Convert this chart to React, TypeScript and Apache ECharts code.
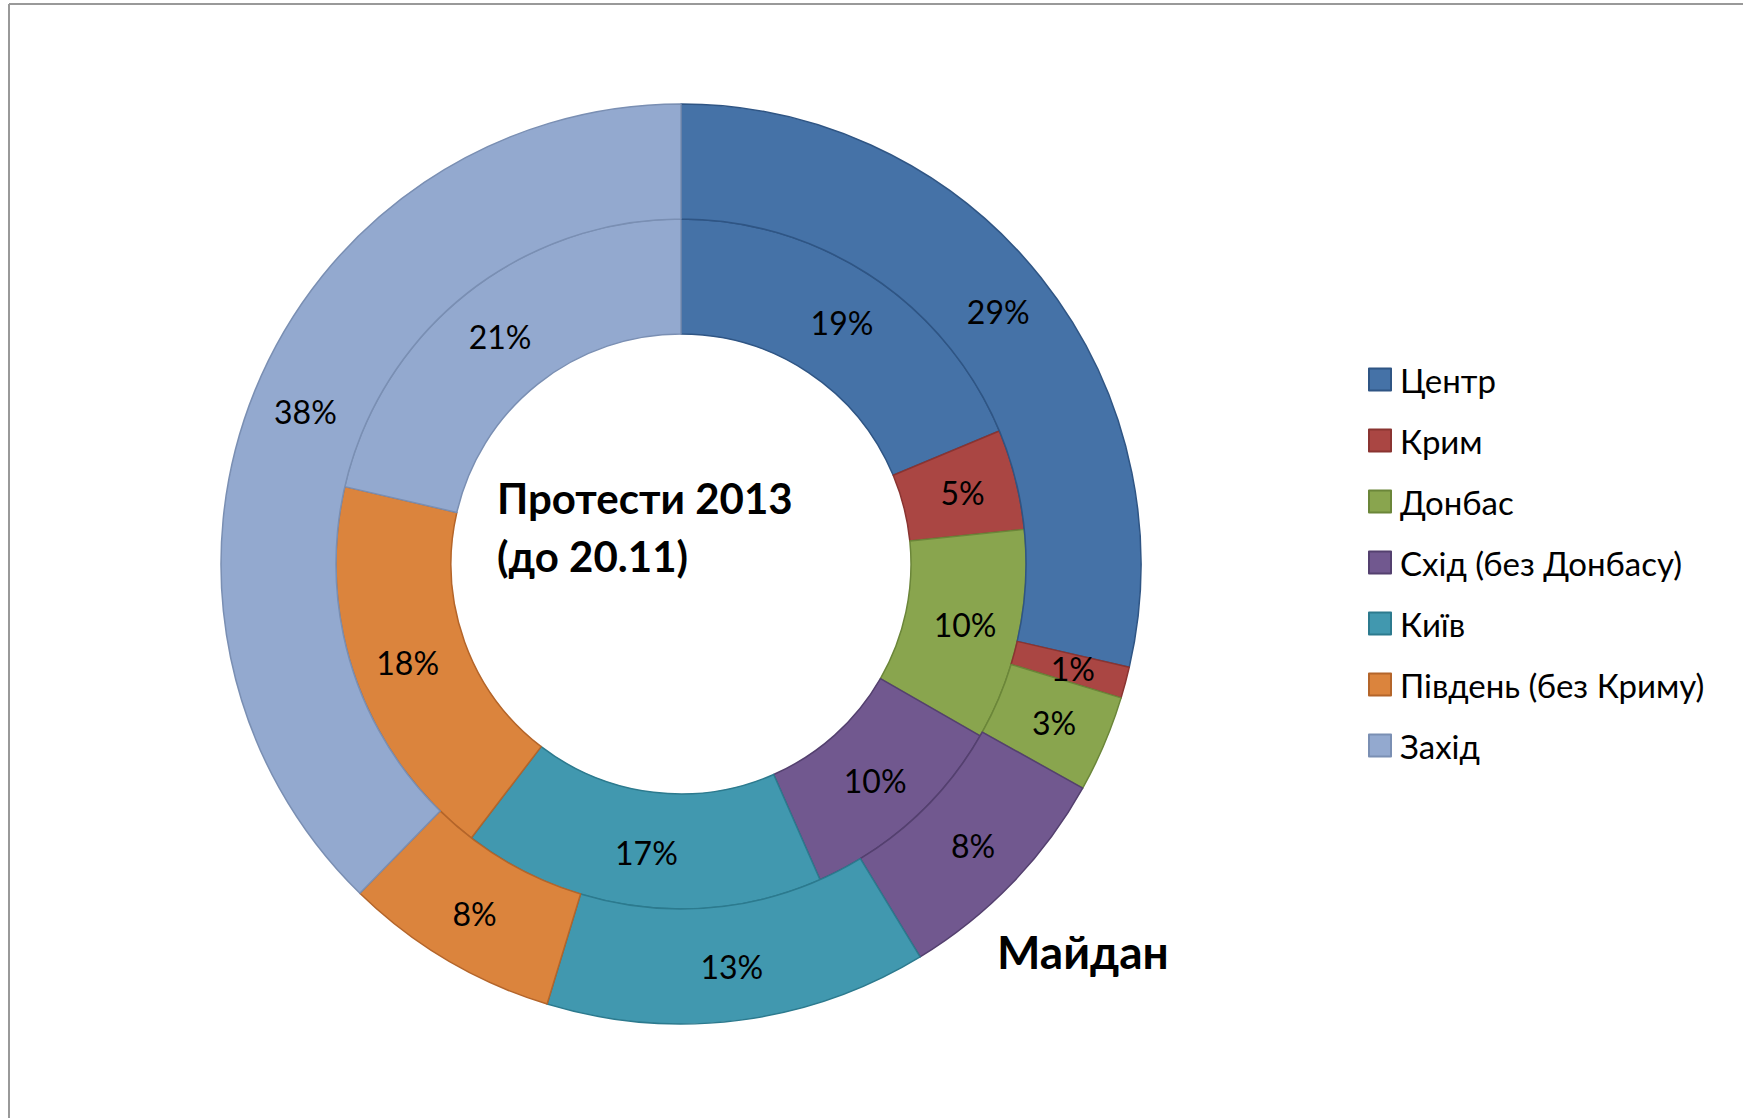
import React, { useEffect, useRef } from "react";
import * as echarts from "echarts";

const categories = [
  "Центр",
  "Крим",
  "Донбас",
  "Схід (без Донбасу)",
  "Київ",
  "Південь (без Криму)",
  "Захід",
];
const protests2013 = [18.7, 4.7, 9.9, 10.1, 17.0, 18.2, 21.4];
const maidan = [28.6, 1.1, 3.4, 8.2, 13.4, 7.6, 37.7];
const colors = ["#4572A7", "#AA4643", "#89A54E", "#71588F", "#4198AF", "#DB843D", "#93A9CF"];
const borders = ["#2F5584", "#8A3431", "#6B8639", "#54406F", "#2C7A8E", "#B4652A", "#7A8FB3"];

const FONT = "Lato, 'Open Sans', sans-serif";

export default function App() {
  const ref = useRef<HTMLDivElement>(null);
  useEffect(() => {
    const chart = echarts.init(ref.current!, null, { renderer: "svg" });
    const mk = (vals: number[]) =>
      categories.map((name, i) => ({
        name,
        value: vals[i],
        itemStyle: { color: colors[i], borderColor: borders[i], borderWidth: 1.5 },
      }));
    const label = {
      show: true,
      position: "inside",
      formatter: (p: any) => Math.round(p.value) + "%",
      color: "#000",
      fontFamily: FONT,
      fontSize: 32,
    };
    chart.setOption({
      animation: false,
      backgroundColor: "#fff",
      legend: {
        orient: "vertical",
        left: 1368,
        top: 363,
        padding: 0,
        itemWidth: 22,
        itemHeight: 22,
        itemGap: 28,
        icon: "rect",
        data: categories,
        textStyle: {
          fontFamily: FONT,
          fontSize: 33,
          color: "#000",
          padding: [0, 0, 0, 4],
          lineHeight: 28,
        },
      },
      graphic: [
        { type: "line", shape: { x1: 9, y1: 4, x2: 1743, y2: 4 }, style: { stroke: "#999", lineWidth: 2 } },
        { type: "line", shape: { x1: 9, y1: 4, x2: 9, y2: 1118 }, style: { stroke: "#999", lineWidth: 2 } },
        {
          type: "text",
          left: 497,
          top: 469,
          style: {
            text: "Протести 2013\n(до 20.11)",
            font: `bold 42px ${FONT}`,
            lineHeight: 58,
            fill: "#000",
          },
        },
        {
          type: "text",
          left: 997,
          top: 928,
          style: {
            text: "Майдан",
            font: `bold 46px ${FONT}`,
            fill: "#000",
          },
        },
      ],
      series: [
        {
          name: "Протести 2013",
          type: "pie",
          center: [681, 564],
          radius: [230, 345],
          startAngle: 90,
          clockwise: true,
          avoidLabelOverlap: false,
          label,
          labelLine: { show: false },
          emphasis: { disabled: true },
          data: mk(protests2013),
        },
        {
          name: "Майдан",
          type: "pie",
          center: [681, 564],
          radius: [345, 460],
          startAngle: 90,
          clockwise: true,
          avoidLabelOverlap: false,
          label,
          labelLine: { show: false },
          emphasis: { disabled: true },
          data: mk(maidan),
        },
      ],
    });
    return () => chart.dispose();
  }, []);
  return (
    <div
      ref={ref}
      style={{ position: "fixed", left: 0, top: 0, width: 1743, height: 1118 }}
    />
  );
}
